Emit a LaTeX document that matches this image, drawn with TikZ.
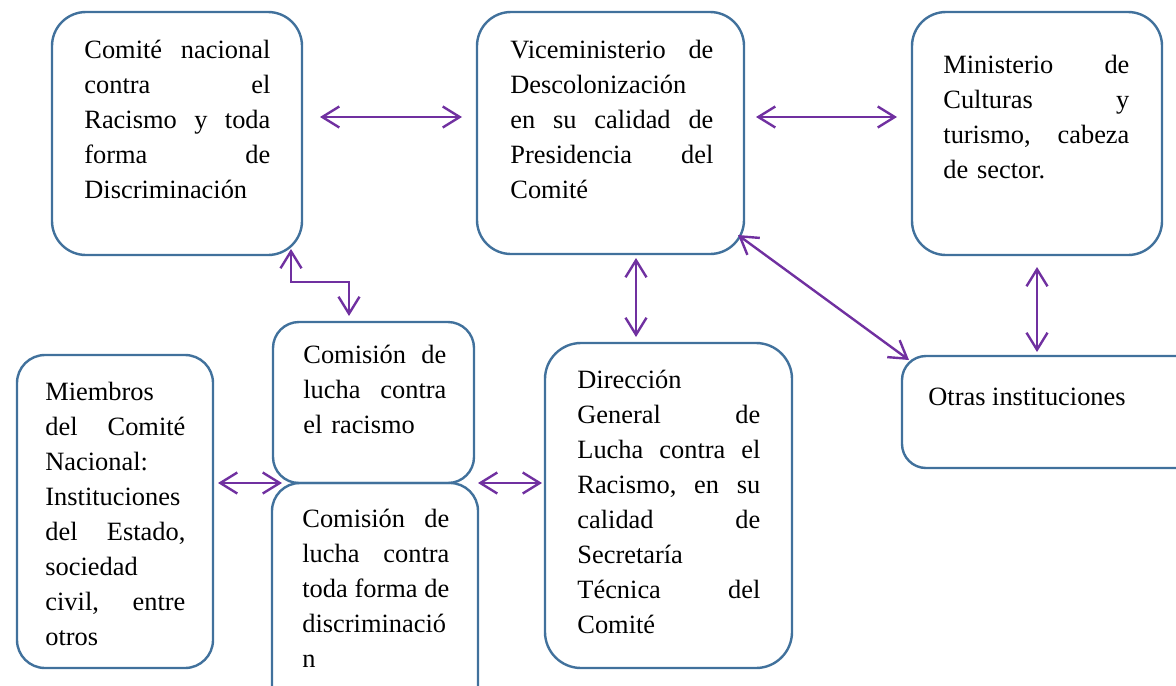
\documentclass[tikz,border=0pt]{standalone}
\usepackage{fontspec}
\setmainfont{Liberation Serif}
\usetikzlibrary{arrows.meta,calc}
\definecolor{boxblue}{HTML}{41719C}
\definecolor{arrpurple}{HTML}{7030A0}
\newcommand{\jl}[2]{\leavevmode\hbox to #1{#2}}
\begin{document}
\begin{tikzpicture}[x=0.5pt,y=-0.5pt,
  box/.style={draw=boxblue,line width=1.2pt,rounded corners=#1,inner sep=0pt,outer sep=0pt,anchor=north west},
  box/.default=17pt,
  txt/.style={inner sep=0pt,anchor=base west,align=left,font=\fontsize{13.2}{17.5}\selectfont},
  arr/.style={draw=arrpurple,line width=1.2pt,{Straight Barb[length=8.5pt,width=10.5pt]}-{Straight Barb[length=8.5pt,width=10.5pt]}}]
\useasboundingbox (0,0) rectangle (1176,685);
\clip (0,0) rectangle (1176,685);
% boxes
\node[box, minimum width=125pt, minimum height=121.5pt] (comite) at (52,12) {};
\node[box, minimum width=133.5pt, minimum height=121pt] (vice) at (477,12) {};
\node[box, minimum width=125pt, minimum height=121.5pt] (minis) at (912,12) {};
\node[box=12pt, minimum width=149pt, minimum height=56pt] (otras) at (902,356) {};
\node[box=14pt, minimum width=98pt, minimum height=156.5pt] (miembros) at (17,355) {};
\node[box=13pt, minimum width=100.5pt, minimum height=80.5pt] (com1) at (273,322) {};
\node[box=14pt, minimum width=103pt, minimum height=120pt] (com2) at (272,483) {};
\node[box=18pt, minimum width=123.5pt, minimum height=162.5pt] (dir) at (545,343) {};
% texts
\node[txt, text width=93pt] (comiteT) at (84,58) {\jl{93pt}{Comité\hfill nacional}\\\jl{93pt}{contra\hfill el}\\\jl{93pt}{Racismo\hfill y\hfill toda}\\\jl{93pt}{forma\hfill de}\\Discriminación};
\node[txt, text width=101.5pt] (viceT) at (510,58) {\jl{101.5pt}{Viceministerio\hfill de}\\Descolonización\\\jl{101.5pt}{en\hfill su\hfill calidad\hfill de}\\\jl{101.5pt}{Presidencia\hfill del}\\Comité};
\node[txt, text width=93pt] (minisT) at (943,73) {\jl{93pt}{Ministerio\hfill de}\\\jl{93pt}{Culturas\hfill y}\\\jl{93pt}{turismo,\hfill cabeza}\\de sector.};
\node[txt] (otrasT) at (928,405) {Otras instituciones};
\node[txt, text width=70pt] (miembrosT) at (45,400) {Miembros\\\jl{70pt}{del\hfill Comité}\\Nacional:\\Instituciones\\\jl{70pt}{del\hfill Estado,}\\sociedad\\\jl{70pt}{civil,\hfill entre}\\otros};
\node[txt, text width=71.5pt] (com1T) at (303,363) {\jl{71.5pt}{Comisión\hfill de}\\\jl{71.5pt}{lucha\hfill contra}\\el racismo};
\node[txt, text width=73.5pt] (com2T) at (302,527) {\jl{73.5pt}{Comisión\hfill de}\\\jl{73.5pt}{lucha\hfill contra}\\\jl{73.5pt}{toda\hfill forma\hfill de}\\discriminació\\n};
\node[txt, text width=91.5pt] (dirT) at (577,388) {Dirección\\\jl{91.5pt}{General\hfill de}\\\jl{91.5pt}{Lucha\hfill contra\hfill el}\\\jl{91.5pt}{Racismo,\hfill en\hfill su}\\\jl{91.5pt}{calidad\hfill de}\\Secretaría\\\jl{91.5pt}{Técnica\hfill del}\\Comité};
% connectors
\draw[arr] ($(comite.north east)+(18,105)$) -- ($(vice.north west)+(-15,105)$);
\draw[arr] ($(vice.north east)+(12,105)$) -- ($(minis.north west)+(-15,105)$);
\draw[arr] ($(comite.south west)+(239,-6)$) -- ++(0,33) -| ($(com1.north west)+(76,-6)$);
\draw[arr] ($(vice.south west)+(159,4)$) -- ($(dir.north west)+(91,-6)$);
\draw[arr] ($(vice.south east)+(-6,-19)$) -- ($(otras.north west)+(7,4)$);
\draw[arr] ($(minis.south west)+(125,12)$) -- ($(otras.north west)+(135,-4)$);
\draw[arr] ($(miembros.north east)+(5,128)$) -- ($(com2.north west)+(10,0)$);
\draw[arr] ($(com2.north east)+(0,0)$) -- ($(dir.north west)+(-3,140)$);
\end{tikzpicture}
\end{document}
